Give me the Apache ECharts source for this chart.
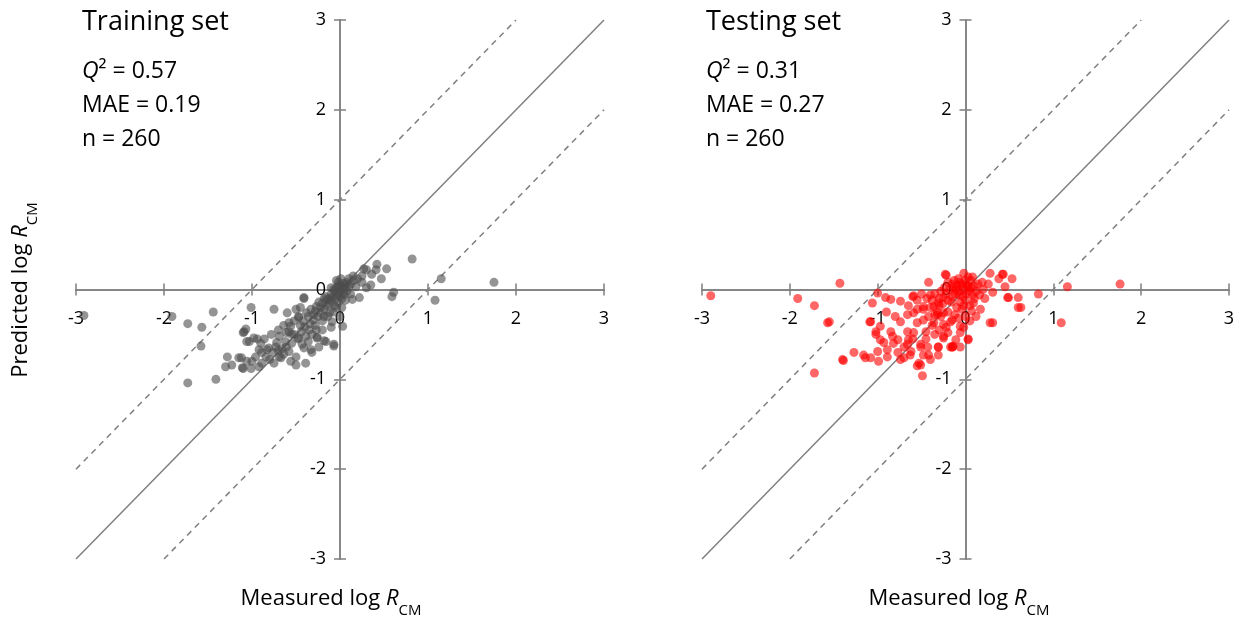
<!DOCTYPE html>
<html>
<head>
<meta charset="utf-8">
<title>Training and testing set</title>
<script src="https://cdn.jsdelivr.net/npm/echarts@6/dist/echarts.min.js"></script>
<style>
  html, body { margin: 0; padding: 0; background: #fff; }
  #chart { width: 1238px; height: 622px; }
</style>
</head>
<body>
<div id="chart"></div>
<script>
// measured vs predicted log R_CM
const trainData = [
  [-2.91,-0.29],[-1.91,-0.30],[-1.73,-0.38],[-1.57,-0.42],[-1.44,-0.25],[-1.58,-0.63],[-1.73,-1.04],[-1.41,-1.0],
  [-1.01,-0.2],[-0.75,-0.22],[-1.07,-0.44],[-1.1,-0.48],[-0.94,-0.55],[-1.03,-0.58],
  [-1.28,-0.75],[-1.23,-0.84],[-1.3,-0.86],[-1.12,-0.76],[-1.1,-0.88],[-1.01,-0.88],[-1.06,-0.8],[-0.92,-0.86],
  [-0.96,-0.75],[-0.89,-0.7],[-0.83,-0.67],[-0.73,-0.64],[-0.69,-0.75],[-0.58,-0.69],[-0.5,-0.84],[-0.58,-0.47],
  [-0.6,-0.26],[-0.5,-0.22],[-0.41,-0.1],[-0.32,-0.7],[-0.26,-0.54],[-0.18,-0.57],[-0.07,-0.63],[-0.27,-0.45],
  [-0.39,-0.52],[-0.41,-0.65],[-0.55,-0.6],
  [-1.09,-0.47],[-0.98,-0.54],[-1.06,-0.58],[-0.92,-0.67],[-0.81,-0.65],[-0.72,-0.59],[-0.61,-0.48],[-0.58,-0.37],
  [-0.47,-0.31],[-0.38,-0.26],[-0.27,-0.19],[-0.16,-0.08],[-0.07,0],[-0.26,-0.53],[-0.16,-0.58],[-0.24,-0.64],
  [-0.33,-0.67],[-0.43,-0.61],[-0.5,-0.75],[-0.39,-0.82],[-0.56,-0.8],[-0.67,-0.76],[-0.75,-0.82],[-0.84,-0.75],
  [-0.89,-0.82],[-1.0,-0.8],[-1.11,-0.87],[-1.15,-0.76],[-0.61,-0.64],[-0.47,-0.54],[-0.35,-0.45],[-0.69,-0.52],
  [-0.78,-0.5],[-0.56,-0.41],
  [0.82,0.34],[0.42,0.28],[0.41,0.22],[0.53,0.23],[0.27,0.23],[0.47,0.12],[0.36,0.17],[0.61,-0.03],[0.59,-0.08],
  [1.15,0.12],[1.08,-0.12],[1.75,0.08],[-0.07,-0.61],[0.03,-0.41],[0.25,0.08],[0.18,0.03],[0.22,-0.09],[0.14,-0.11],
  [0.3,0.22],[0.25,0.15],[0.16,0.1],[-0.47,-0.3],[-0.41,-0.09],[-0.09,-0.36],
  [-0.45,-0.4],[-0.42,-0.35],[-0.4,-0.42],[-0.36,-0.3],[-0.34,-0.38],[-0.3,-0.28],[-0.3,-0.34],[-0.28,-0.24],
  [-0.25,-0.3],[-0.22,-0.2],[-0.22,-0.26],[-0.2,-0.15],[-0.18,-0.22],[-0.15,-0.12],[-0.15,-0.18],[-0.12,-0.1],
  [-0.12,-0.16],[-0.1,-0.05],[-0.1,-0.12],[-0.08,-0.08],[-0.06,-0.02],[-0.05,-0.1],[-0.04,0.02],[-0.03,-0.05],
  [-0.02,0.04],[0,-0.02],[0,0.05],[0.02,0.02],[0.03,-0.04],[0.04,0.07],[0.05,0.01],[0.06,0.05],[0.08,-0.02],
  [0.08,0.08],[0.1,0.03],[0.12,-0.05],[0.12,0.06],[-0.02,-0.14],[-0.05,-0.2],[0.02,-0.1],[-0.08,-0.25],[-0.14,-0.3],
  [-0.2,-0.35],[-0.52,-0.5],[-0.48,-0.55],[-0.62,-0.58],[-0.66,-0.66],[-0.7,-0.68],[-0.76,-0.7],[-0.64,-0.72],
  [-0.8,-0.78],[-0.55,-0.5],[-0.44,-0.47],[-0.32,-0.5],[-0.36,-0.58],[-0.28,-0.4],[-0.18,-0.3],[-0.12,-0.26],
  [-0.06,-0.18],[0.02,-0.2],[0.06,-0.12],[-0.9,-0.6],[-0.86,-0.55],[-0.7,-0.45],[-0.64,-0.4],[-0.52,-0.35],
  [0.15,0.15],[0.2,0.12],[0.1,0.12],[-0.02,0.08],[0.35,0.05],[0.3,0.02],
  [-0.04,0.1],[0.01,0.12],[-0.1,0.02],[-0.18,-0.1],[-0.24,-0.14],[-0.33,-0.22],[0.05,-0.06],[-0.01,-0.07],
  [-0.2,-0.45],[-0.1,-0.42],[0.0,-0.3],[-0.45,-0.2]
];

const testData = [
  [-2.9,-0.07],[-1.91,-0.1],[-1.72,-0.18],[-1.57,-0.37],[-1.55,-0.36],[-1.43,0.07],[-1.72,-0.93],[-1.39,-0.79],
  [-1.06,-0.15],[-0.91,-0.09],[-0.74,-0.13],[-0.6,-0.08],[-0.42,0.08],[-0.22,0.16],[-1.09,-0.36],[-1.02,-0.47],
  [-0.97,-0.56],[-0.83,-0.52],[-0.74,-0.36],[-0.66,-0.28],[-0.55,-0.22],[-0.48,-0.34],[-0.4,-0.2],[-0.31,-0.15],
  [-1.27,-0.7],[-1.16,-0.73],[-1.08,-0.76],[-1.0,-0.69],[-0.89,-0.67],[-0.77,-0.7],[-0.7,-0.76],[-0.62,-0.69],
  [-0.51,-0.64],[-0.53,-0.82],[-0.49,-0.96],[-0.55,-0.85],[-0.42,-0.73],[-0.31,-0.64],[-0.25,-0.52],[-0.14,-0.63],
  [-0.06,-0.41],[0.03,-0.55],[-0.25,-0.39],[-0.17,-0.36],[-0.36,-0.37],[-0.45,-0.47],[-0.59,-0.48],[-0.65,-0.56],
  [-0.7,-0.64],[-0.32,-0.28],[-0.48,-0.19],
  [-1.0,-0.04],[-0.85,-0.11],[-0.59,-0.07],[-0.4,-0.06],[-1.4,-0.78],[-1.14,-0.76],[-0.99,-0.8],[-0.89,-0.75],
  [-0.74,-0.78],[-0.63,-0.73],[-0.51,-0.84],[-0.4,-0.78],[-0.31,-0.73],[-0.15,-0.64],[-0.31,-0.64],[-0.43,-0.64],
  [-0.66,-0.61],[-0.77,-0.56],[-0.93,-0.59],[-1.02,-0.5],[-0.97,-0.41],[-1.08,-0.36],[-0.85,-0.47],[-0.66,-0.47],
  [-0.55,-0.37],[-0.59,-0.26],[-0.48,-0.22],[-0.36,-0.19],[-0.25,-0.26],[-0.15,-0.34],[-0.06,-0.48],[-0.2,-0.48],
  [-0.11,-0.56],[-0.17,-0.64],[-0.48,-0.73],[-0.51,-0.61],
  [0.28,0.18],[0.42,0.17],[0.38,0.12],[0.53,0.12],[0.45,0.03],[0.26,0.06],[0.19,0.08],[0.31,-0.03],[0.48,-0.09],
  [0.6,-0.09],[0.6,-0.2],[0.83,-0.05],[0.28,-0.37],[0.17,-0.22],[0.09,-0.15],[0.03,-0.56],[-0.06,-0.64],
  [-0.15,-0.64],[-0.25,-0.54],[-0.23,0.17],[-0.2,0.08],[-0.25,-0.09],[-0.32,-0.25],
  [1.16,0.03],[1.76,0.06],[1.09,-0.37],[0.63,-0.2],[0.49,-0.09],[0.43,0.17],[0.31,-0.37],
  [0,0.1],[0.02,0.05],[-0.02,0],[0.04,-0.02],[-0.05,0.04],[-0.08,-0.02],[-0.1,0.05],[-0.12,-0.05],[0.06,0.02],
  [0.08,-0.06],[0.1,0.04],[0.12,-0.02],[-0.03,-0.08],[0,-0.12],[-0.06,-0.14],[-0.15,-0.08],[-0.18,0],[-0.15,0.06],
  [-0.2,-0.12],[-0.22,-0.05],[-0.28,-0.02],[-0.3,-0.1],[-0.26,-0.16],[-0.35,-0.05],[-0.38,-0.12],[-0.44,-0.1],
  [-0.1,-0.2],[-0.04,-0.22],[0.05,-0.18],[0.1,-0.1],[0.14,0.06],[0.16,-0.06],[-0.08,0.12],[0.03,0.14],[-0.12,-0.28],
  [-0.2,-0.25],[-0.28,-0.3],[-0.35,-0.28],[-0.42,-0.3],[-0.38,-0.4],[-0.3,-0.45],[-0.22,-0.42],[-0.08,-0.32],
  [0,-0.3],[-0.02,0.18],[-0.06,0.08],[0.06,0.1],[-0.14,0.02],[0.2,0],[0.22,-0.1],[-0.5,-0.05],[-0.55,-0.12],
  [-0.65,-0.18],[-0.8,-0.3],[-0.9,-0.25],[-0.82,-0.6],[-0.6,-0.55],[-0.35,-0.5],[-0.45,-0.55],[0.05,-0.35],
  [0.12,-0.3],[-0.02,-0.42],
  [-0.04,0.06],[0.01,-0.05],[-0.07,-0.06],[-0.11,0.0],[0.03,0.03],[-0.16,-0.14],[-0.02,-0.18],[0.08,0.14],
  [-0.13,0.1],[-0.24,0.02],[-0.3,-0.18],[0.07,-0.24]
];

// y = x and y = x +/- 1 guide lines
const identityLine = [[-3, -3], [3, 3]];
const upperLine = [[-3, -2], [2, 3]];
const lowerLine = [[-2, -3], [3, 2]];

const panelTitles = ['Training set', 'Testing set'];
const q2Values = ['0.57', '0.31'];
const maeValues = ['0.19', '0.27'];
const nValues = ['260', '260'];

const FONT = '"Open Sans", "Liberation Sans", sans-serif';
const AXIS_GRAY = '#7f7f7f';

var chart = echarts.init(document.getElementById('chart'));

const grids = [
  { left: 76, top: 20, width: 528, height: 539 },
  { left: 702, top: 20, width: 527, height: 539 }
];

// v6 keeps labels at the grid edge even when the line sits on zero,
// so pull them in towards the zero line with a negative margin
function xAxes(g, zeroIdx) {
  const common = {
    gridIndex: g, type: 'value', min: -3, max: 3, interval: 1,
    axisLine: { onZero: true, onZeroAxisIndex: zeroIdx, lineStyle: { color: AXIS_GRAY, width: 1.5 } },
    axisTick: { show: true, length: 6, lineStyle: { color: AXIS_GRAY, width: 1.5 } },
    splitLine: { show: false }
  };
  return [
    Object.assign({}, common, {
      position: 'bottom',
      axisLabel: { color: '#000', fontSize: 18, fontFamily: FONT, margin: -(grids[g].height / 2 - 20) }
    }),
    Object.assign({}, common, { position: 'top', axisLabel: { show: false } })
  ];
}

function yAxes(g, zeroIdx) {
  const common = {
    gridIndex: g, type: 'value', min: -3, max: 3, interval: 1,
    axisLine: { show: true, onZero: true, onZeroAxisIndex: zeroIdx, lineStyle: { color: AXIS_GRAY, width: 1.5 } },
    axisTick: { show: true, length: 6, lineStyle: { color: AXIS_GRAY, width: 1.5 } },
    splitLine: { show: false }
  };
  return [
    Object.assign({}, common, {
      position: 'left',
      axisLabel: { color: '#000', fontSize: 18, fontFamily: FONT, margin: -(grids[g].width / 2 - 14) }
    }),
    Object.assign({}, common, { position: 'right', axisLabel: { show: false } })
  ];
}

function guideSeries(xi, yi) {
  const base = { type: 'line', xAxisIndex: xi, yAxisIndex: yi, symbol: 'none', silent: true, z: 1 };
  return [
    Object.assign({}, base, { data: identityLine, lineStyle: { color: AXIS_GRAY, width: 1.5 } }),
    Object.assign({}, base, { data: upperLine, lineStyle: { color: AXIS_GRAY, width: 1.5, type: [6, 5] } }),
    Object.assign({}, base, { data: lowerLine, lineStyle: { color: AXIS_GRAY, width: 1.5, type: [6, 5] } })
  ];
}

const rich = {
  i: { fontStyle: 'italic', fontSize: 23, fontFamily: FONT, lineHeight: 28, verticalAlign: 'top' },
  n: { fontSize: 23, fontFamily: FONT, lineHeight: 28, verticalAlign: 'top' }
};
const nameRich = {
  n: { fontSize: 22, fontFamily: FONT, lineHeight: 30, verticalAlign: 'top', fill: '#000' },
  i: { fontSize: 22, fontFamily: FONT, fontStyle: 'italic', lineHeight: 30, verticalAlign: 'top', fill: '#000' },
  sub: { fontSize: 15, fontFamily: FONT, lineHeight: 15, verticalAlign: 'bottom', fill: '#000' }
};

const panelX = [82, 706];
const nameCenterX = [331, 959];
const graphics = [];
panelX.forEach(function (px, k) {
  graphics.push({ type: 'text', x: px, y: 9, style: { text: panelTitles[k], font: '27px ' + FONT, fill: '#000' } });
  graphics.push({ type: 'text', x: px, y: 60, style: { text: '{i|Q}{n|² = ' + q2Values[k] + '}', rich: rich, fill: '#000' } });
  graphics.push({ type: 'text', x: px, y: 94, style: { text: '{n|MAE = ' + maeValues[k] + '}', rich: rich, fill: '#000' } });
  graphics.push({ type: 'text', x: px, y: 128, style: { text: '{n|n = ' + nValues[k] + '}', rich: rich, fill: '#000' } });
  graphics.push({ type: 'text', x: nameCenterX[k], y: 588, style: { text: '{n|Measured log }{i|R}{sub|CM}', rich: nameRich, align: 'center' } });
});
graphics.push({
  type: 'text', x: 25, y: 290, rotation: Math.PI / 2,
  style: { text: '{n|Predicted log }{i|R}{sub|CM}', rich: nameRich, align: 'center', verticalAlign: 'middle' }
});

const option = {
  animation: false,
  backgroundColor: '#fff',
  grid: grids,
  xAxis: xAxes(0, 0).concat(xAxes(1, 2)),
  yAxis: yAxes(0, 0).concat(yAxes(1, 2)),
  graphic: graphics,
  series: guideSeries(0, 0).concat(guideSeries(2, 2)).concat([
    {
      type: 'scatter', xAxisIndex: 0, yAxisIndex: 0, data: trainData, symbolSize: 9, z: 3,
      itemStyle: { color: '#4d4d4d', opacity: 0.6 }
    },
    {
      type: 'scatter', xAxisIndex: 2, yAxisIndex: 2, data: testData, symbolSize: 9, z: 3,
      itemStyle: { color: '#ff0000', opacity: 0.6 }
    }
  ])
};
chart.setOption(option);
</script>
</body>
</html>
